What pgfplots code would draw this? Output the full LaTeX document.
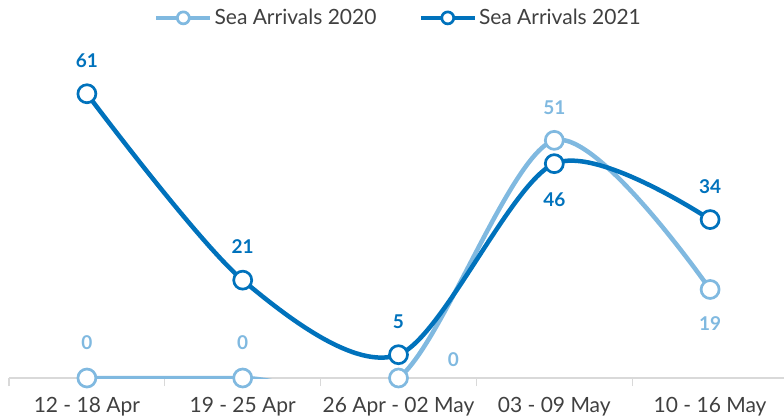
\documentclass[border=0pt]{standalone}
\usepackage{pgfplots}
\usepackage{pgfplotstable}
\pgfplotsset{compat=1.18}
\usepackage{fontspec}
\setmainfont{Lato}
\definecolor{lb}{HTML}{80B9E0}
\definecolor{db}{HTML}{0072BC}
\definecolor{axgray}{HTML}{D9D9D9}
\definecolor{txt}{HTML}{404040}

% x, value, label shift (pt)
\pgfplotstableread{
x y dx dy
0 0 0 35
1 0 0 35
2 0 55 18
3 51 0 33
4 19 0 -34
}\seaA
\pgfplotstableread{
x y dx dy
0 61 0 33
1 21 0 34
2 5 0 33
3 46 0 -36
4 34 0 33
}\seaB

\begin{document}
\begin{tikzpicture}
\useasboundingbox (0,0) rectangle (784pt,416pt);
\begin{axis}[
    at={(9pt,38pt)}, anchor=south west,
    scale only axis,
    width=779pt, height=326.2pt,
    xmin=-0.5, xmax=4.5,
    ymin=0, ymax=70,
    clip mode=individual,
    axis y line=none,
    axis x line=bottom,
    x axis line style={-, draw=axgray, line width=1.2pt},
    xtick={0,1,2,3,4},
    xticklabels={12 - 18 Apr, 19 - 25 Apr, 26 Apr - 02 May, 03 - 09 May, 10 - 16 May},
    major x tick style={draw=none},
    minor xtick={-0.5,0.5,1.5,2.5,3.5},
    minor x tick style={draw=axgray, line width=1.2pt},
    minor tick length=8pt,
    tick align=outside,
    xticklabel style={font=\fontsize{21}{24}\selectfont, text=txt, yshift=-11pt},
    legend style={draw=none, at={(0.5,1.104)}, anchor=center,
        legend columns=2, font=\fontsize{21}{24}\selectfont, text=txt,
        /tikz/every even column/.append style={column sep=40pt},
        inner sep=0pt},
    legend cell align=left,
    legend image code/.code={
        \draw[mark repeat=2, mark phase=2, #1, line width=4.5pt, mark size=6pt]
        plot coordinates {(0pt,0pt) (27pt,0pt) (54pt,0pt)};},
    nodes near coords={\pgfmathprintnumber[assume math mode=true]{\pgfplotspointmeta}},
    visualization depends on={\thisrow{dx} \as \dx},
    visualization depends on={\thisrow{dy} \as \dy},
    every node near coord/.append style={font=\bfseries\fontsize{19}{22}\selectfont,
        anchor=center, xshift=\dx pt, yshift=\dy pt},
]
\addplot[lb, line width=4.5pt, smooth, mark=*, mark size=9pt,
    mark options={fill=white, draw=lb, line width=2.7pt},
    nodes near coords style={text=lb}] table[x=x, y=y] {\seaA};
\addlegendentry{Sea Arrivals 2020}
\addplot[db, line width=4.5pt, smooth, mark=*, mark size=9pt,
    mark options={fill=white, draw=db, line width=2.7pt},
    nodes near coords style={text=db}] table[x=x, y=y] {\seaB};
\addlegendentry{Sea Arrivals 2021}
\end{axis}
\end{tikzpicture}
\end{document}
